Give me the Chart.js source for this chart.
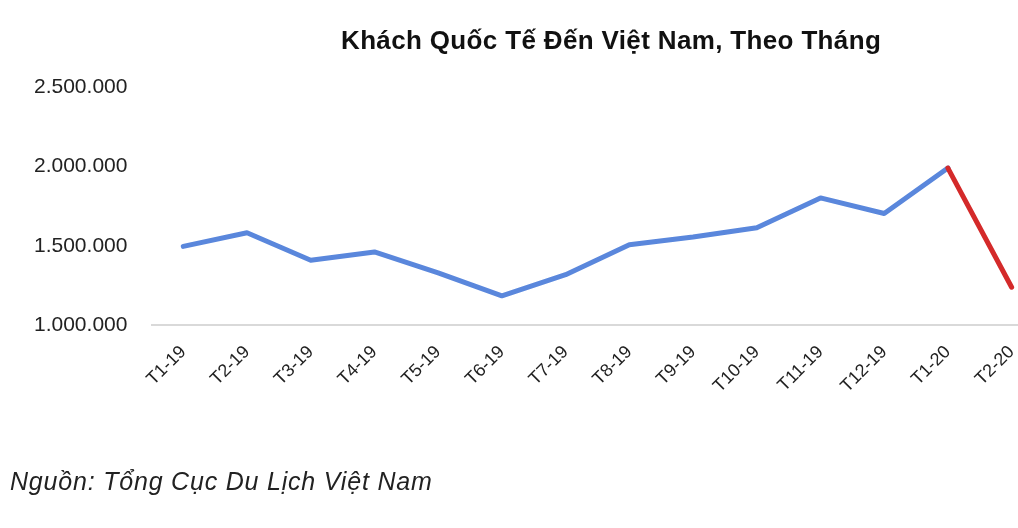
<!DOCTYPE html>
<html>
<head>
<meta charset="utf-8">
<script src="https://cdn.jsdelivr.net/npm/chart.js@4/dist/chart.umd.min.js"></script>
<style>
  html, body { margin: 0; padding: 0; background: #fff; }
  #wrap { position: relative; width: 1018px; height: 528px; overflow: hidden; }
  #title { position: absolute; left: 341px; top: 25px; font: bold 26px "Liberation Sans", Arial, sans-serif; letter-spacing: 0.35px; color: #111; white-space: nowrap; }
  #source { position: absolute; left: 10px; top: 467px; font: italic 25px "Liberation Sans", Arial, sans-serif; letter-spacing: 0.8px; color: #222; white-space: nowrap; }
  canvas { position: absolute; left: 0; top: 0; }
</style>
</head>
<body>
<div id="wrap">
  <canvas id="myChart" width="1018" height="528"></canvas>
  <div id="title">Khách Quốc Tế Đến Việt Nam, Theo Tháng</div>
  <div id="source">Nguồn: Tổng Cục Du Lịch Việt Nam</div>
</div>
<script>
var months = ['T1-19', 'T2-19', 'T3-19', 'T4-19', 'T5-19', 'T6-19', 'T7-19', 'T8-19', 'T9-19', 'T10-19', 'T11-19', 'T12-19', 'T1-20', 'T2-20'];
var visitors = [1497000, 1583000, 1410000, 1462000, 1330000, 1186000, 1319000, 1508000, 1556000, 1615000, 1802000, 1704000, 1990000, 1240000];
var yTicks = [1000000, 1500000, 2000000, 2500000];

var blue = '#5a87dc';
var red = '#d42a2a';

function formatNumber(v) {
  return String(v).replace(/\B(?=(\d{3})+(?!\d))/g, '.');
}

var points = visitors.map(function(v, i) { return { x: i, y: v }; });

var ctx = document.getElementById('myChart').getContext('2d');
var myChart = new Chart(ctx, {
  type: 'line',
  data: {
    datasets: [{
      label: 'Khách quốc tế',
      data: points,
      borderColor: blue,
      borderWidth: 5,
      borderCapStyle: 'round',
      borderJoinStyle: 'round',
      pointRadius: 0,
      tension: 0,
      segment: {
        // the drop in February 2020 is drawn in red
        borderColor: function(c) { return c.p1DataIndex === months.length - 1 ? red : blue; }
      }
    }]
  },
  options: {
    responsive: false,
    animation: false,
    layout: { padding: { left: 10, right: 0, top: 87, bottom: 123 } },
    plugins: {
      legend: { display: false },
      tooltip: { enabled: false }
    },
    scales: {
      x: {
        type: 'linear',
        min: -0.5,
        max: 13.1,
        grid: { display: false },
        border: { display: false },
        afterBuildTicks: function(axis) {
          axis.ticks = months.map(function(m, i) { return { value: i }; });
        },
        afterFit: function(axis) {
          // let the plot run to the right edge like the original
          axis.paddingRight = 0;
        },
        ticks: {
          autoSkip: false,
          maxRotation: 45,
          minRotation: 45,
          padding: 8,
          color: '#222',
          font: { family: '"Liberation Sans", Arial, sans-serif', size: 18 },
          callback: function(value) { return months[value]; }
        }
      },
      y: {
        min: 1000000,
        max: 2500000,
        afterBuildTicks: function(axis) {
          axis.ticks = yTicks.map(function(v) { return { value: v }; });
        },
        grid: {
          drawTicks: false,
          lineWidth: 2,
          color: function(c) { return c.tick && c.tick.value === 1000000 ? '#d9d9d9' : 'rgba(0,0,0,0)'; }
        },
        border: { display: false },
        ticks: {
          padding: 24,
          color: '#222',
          font: { family: '"Liberation Sans", Arial, sans-serif', size: 21 },
          callback: function(value) { return formatNumber(value); }
        }
      }
    }
  }
});
</script>
</body>
</html>
